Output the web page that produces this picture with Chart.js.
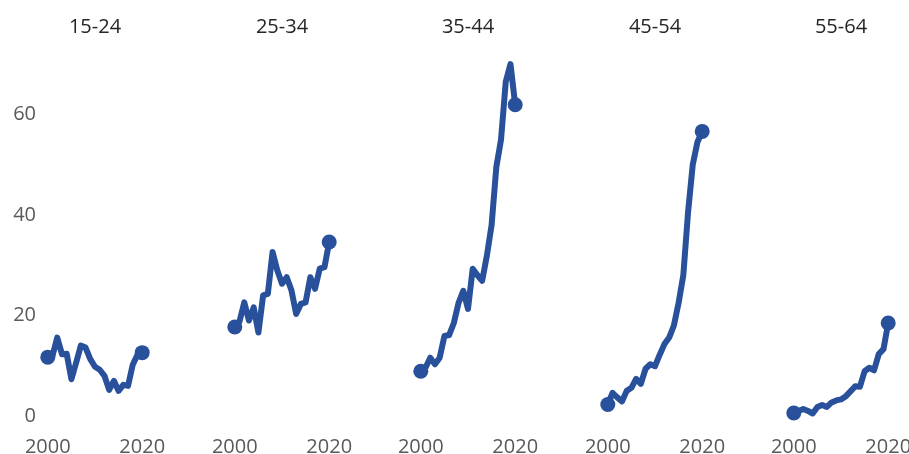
<!DOCTYPE html>
<html><head><meta charset="utf-8">
<script src="https://cdn.jsdelivr.net/npm/chart.js@4.4.1/dist/chart.umd.min.js"></script>
<style>
html,body{margin:0;padding:0;background:#fff;overflow:hidden;width:909px;height:454px;position:relative}
canvas{position:absolute;top:0}
</style></head><body>
<script>
const years = [2000,2001,2002,2003,2004,2005,2006,2007,2008,2009,2010,2011,2012,2013,2014,2015,2016,2017,2018,2019,2020];
const groups = ['15-24','25-34','35-44','45-54','55-64'];
const age1524 = [11.7,12.0,15.6,12.3,12.4,7.3,10.6,14.0,13.6,11.3,9.8,9.2,8.0,5.2,7.0,5.0,6.2,6.0,10.2,12.2,12.6];
const age2534 = [17.7,18.8,22.6,19.0,21.6,16.6,24.0,24.3,32.6,29.0,26.3,27.6,25.0,20.3,22.3,22.6,27.6,25.3,29.3,29.6,34.6];
const age3544 = [8.9,9.6,11.6,10.3,11.6,15.9,16.1,18.5,22.5,24.9,21.3,29.3,28.0,26.9,31.9,38.0,49.5,55.0,66.5,70.0,61.9];
const age4554 = [2.3,4.6,3.7,2.9,5.0,5.6,7.4,6.4,9.4,10.3,9.9,12.2,14.3,15.6,18.0,22.5,28.0,40.5,50.0,54.5,56.6];
const age5564 = [0.6,1.0,1.4,1.0,0.5,1.8,2.2,1.8,2.7,3.1,3.3,3.9,4.9,5.9,5.8,8.9,9.6,9.1,12.3,13.3,18.5];
const seriesList = [age1524,age2534,age3544,age4554,age5564];
const xTickYears = [2000,2020];
const yTickValues = [0,20,40,60];

const COLOR = '#29509b';
const PANEL_STEP = 186.6, AXIS_W = 36, CANVAS_W = 180, CANVAS_H = 492;

function zeroPad(s){ s.paddingLeft = 0; s.paddingRight = 0; s.paddingTop = 0; s.paddingBottom = 0; }

groups.forEach((g,i)=>{
  const c = document.createElement('canvas');
  c.width = CANVAS_W; c.height = CANVAS_H;
  c.style.left = (i*PANEL_STEP)+'px';
  c.style.width = CANVAS_W+'px'; c.style.height = CANVAS_H+'px';
  document.body.appendChild(c);
  const vals = seriesList[i];
  const n = vals.length;
  new Chart(c,{
    type:'line',
    data:{datasets:[{
      data: years.map((y,k)=>({x:y,y:vals[k]})),
      borderColor:COLOR, backgroundColor:COLOR, borderWidth:6,
      borderCapStyle:'round', borderJoinStyle:'round', tension:0,
      pointRadius: ctx => (ctx.dataIndex===0 || ctx.dataIndex===n-1) ? 7.5 : 0,
      pointHoverRadius:0, pointBorderWidth:0, clip:false
    }]},
    options:{
      responsive:false, animation:false, events:[], devicePixelRatio:1,
      layout:{autoPadding:false, padding:{left:0,right:26,top:0,bottom:14}},
      plugins:{
        legend:{display:false}, tooltip:{enabled:false},
        title:{display:true, text:g, color:'#252525', fullSize:false,
          font:{family:'Open Sans', size:20, weight:'normal'},
          padding:{top:15,bottom:15}}
      },
      scales:{
        x:{type:'linear', min:1997.5, max:2022.5,
          grid:{display:false, drawTicks:false}, border:{display:false},
          afterBuildTicks: s => { s.ticks = xTickYears.map(v=>({value:v})); },
          afterFit: zeroPad,
          ticks:{color:'#595959', font:{family:'Open Sans', size:20}, padding:19,
            maxRotation:0, autoSkip:false, callback: v => String(v)}
        },
        y:{min:0, max:72,
          grid:{display:false, drawTicks:false}, border:{display:false},
          afterBuildTicks: s => { s.ticks = yTickValues.map(v=>({value:v})); },
          afterFit: s => { s.width = AXIS_W; zeroPad(s); },
          ticks:{display:i===0, color:'#595959', font:{family:'Open Sans', size:20}, padding:0,
            callback: v => String(v)}
        }
      }
    }
  });
});
</script>
</body></html>
